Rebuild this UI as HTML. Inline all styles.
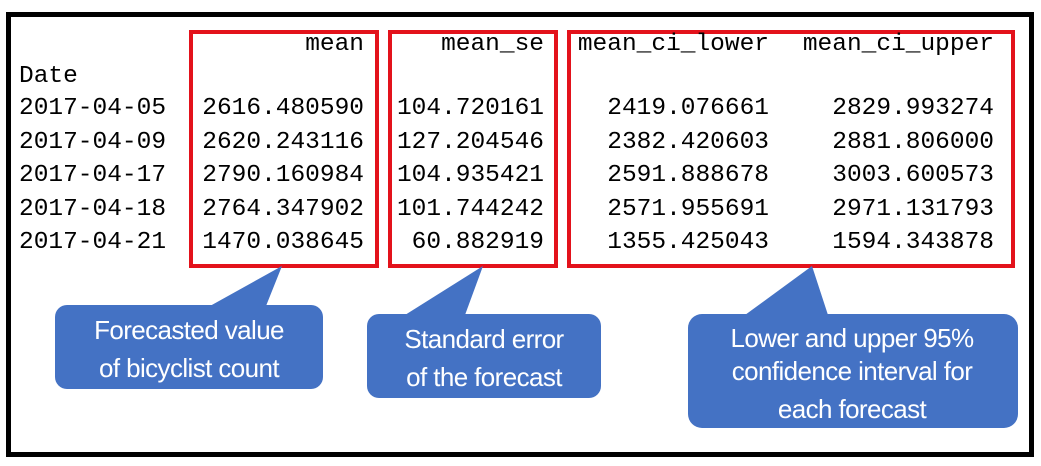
<!DOCTYPE html>
<html><head><meta charset="utf-8"><style>
body{margin:0;width:1041px;height:466px;background:#fff;position:relative;overflow:hidden}
.frame{position:absolute;left:6px;top:12px;width:1018px;height:435px;border:5px solid #000}
.t{position:absolute;font-family:"Liberation Mono",monospace;font-size:24.5px;color:#000;white-space:pre;line-height:1}
.box{position:absolute;border:4px solid #e3121b;box-sizing:border-box}
svg{position:absolute;left:0;top:0}
.c{font-family:"Liberation Sans",sans-serif;font-size:26px;fill:#fff;text-anchor:middle;letter-spacing:-0.6px}
</style></head><body>
<div class="frame"></div>
<div class="box" style="left:189px;top:30px;width:190px;height:238px"></div>
<div class="box" style="left:388px;top:30px;width:170px;height:238px"></div>
<div class="box" style="left:567px;top:30px;width:448px;height:238px"></div>
<div id="tbl"></div>
<svg width="1041" height="466">
<g>
<polygon points="282,266 266,306 210,306" fill="#4472c4"/>
<rect x="55" y="305" width="268" height="84" rx="12" fill="#4472c4"/>
<text class="c" x="189" y="339">Forecasted value</text>
<text class="c" x="189" y="377">of bicyclist count</text>
</g>
<g>
<polygon points="483,266 465,315 405,315" fill="#4472c4"/>
<rect x="367" y="314" width="234" height="84" rx="12" fill="#4472c4"/>
<text class="c" x="484" y="348">Standard error</text>
<text class="c" x="484" y="386">of the forecast</text>
</g>
<g>
<polygon points="812,266 828,315 745,315" fill="#4472c4"/>
<rect x="688" y="314" width="330" height="114" rx="14" fill="#4472c4"/>
<text class="c" x="852" y="347">Lower and upper 95%</text>
<text class="c" x="852" y="380">confidence interval for</text>
<text class="c" x="852" y="418">each forecast</text>
</g>
</svg>
<script>
const dates=["2017-04-05","2017-04-09","2017-04-17","2017-04-18","2017-04-21"];
const means=["2616.480590","2620.243116","2790.160984","2764.347902","1470.038645"];
const ses=["104.720161","127.204546","104.935421","101.744242","60.882919"];
const lows=["2419.076661","2382.420603","2591.888678","2571.955691","1355.425043"];
const ups=["2829.993274","2881.806000","3003.600573","2971.131793","1594.343878"];
const tbl=document.getElementById('tbl');
function put(txt,x,y,right,name){
  const d=document.createElement('div');
  d.className='t';
  d.textContent=txt;
  if(right){d.style.right=(1041-x)+'px';}else{d.style.left=x+'px';}
  d.style.top=(y-11)+'px';
  
  
  tbl.appendChild(d);
}
put('mean',364,44,true,'header-mean');
put('mean_se',544,44,true,'header-mean-se');
put('mean_ci_lower',769,44,true,'header-ci-lower');
put('mean_ci_upper',994,44,true,'header-ci-upper');
put('Date',19,76,false,'header-date');
for(let i=0;i<dates.length;i++){
  const y=108+i*33.5;
  put(dates[i],19,y,false,'date-cell');
  put(means[i],364,y,true,'mean-cell');
  put(ses[i],544,y,true,'mean-se-cell');
  put(lows[i],769,y,true,'ci-lower-cell');
  put(ups[i],994,y,true,'ci-upper-cell');
}
</script>
</body></html>
